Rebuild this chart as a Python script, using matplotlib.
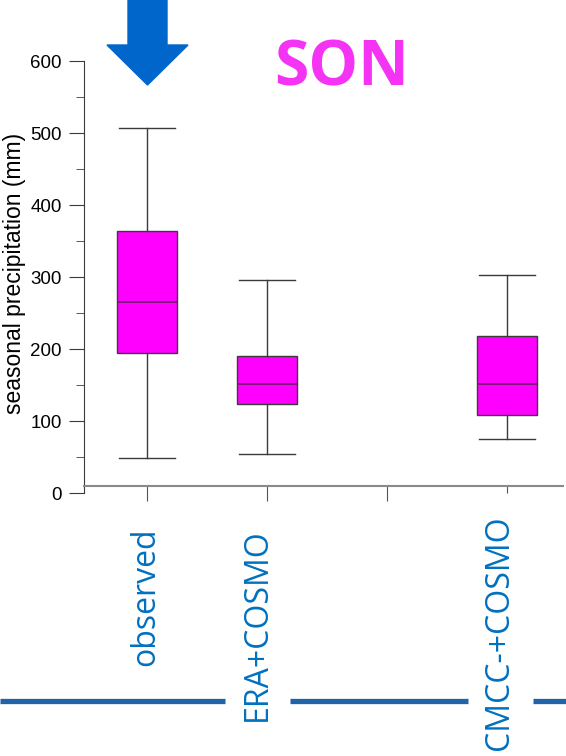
import matplotlib
matplotlib.use("Agg")
import matplotlib.pyplot as plt
from matplotlib.patches import FancyArrow

# box statistics (mm)
categories = ["observed", "ERA+COSMO", "CMCC-+COSMO"]
positions = [1, 2, 4]
whis_low = [49, 54, 75]
q1 = [194, 124, 108]
median = [265, 151, 151]
q3 = [364, 190, 218]
whis_high = [507, 296, 303]

W, H = 566, 756
fig = plt.figure(figsize=(W / 100, H / 100), dpi=100)

# axes box in pixels: x 84..563, y 61(600)..493(0)
ax = fig.add_axes([84 / W, 1 - 493 / H, (563 - 84) / W, (493 - 61) / H])

stats = []
for i in range(len(positions)):
    stats.append({"whislo": whis_low[i], "q1": q1[i], "med": median[i],
                  "q3": q3[i], "whishi": whis_high[i], "fliers": []})

ax.bxp(stats, positions=positions, widths=0.5, patch_artist=True,
       showfliers=False,
       boxprops=dict(facecolor="#ff00ff", edgecolor="#3a3a3a", linewidth=1),
       medianprops=dict(color="#6a1a6a", linewidth=1.2),
       whiskerprops=dict(color="#3a3a3a", linewidth=1),
       capprops=dict(color="#3a3a3a", linewidth=1),
       capwidths=0.47)

ax.set_xlim(0.475, 4.467)
ax.set_ylim(0, 600)
ax.set_yticks([0, 100, 200, 300, 400, 500, 600])
ax.set_yticks([50, 150, 250, 350, 450, 550], minor=True)
ax.set_xticks([1, 2, 3, 4])
ax.set_xticklabels([])

for s in ["top", "right"]:
    ax.spines[s].set_visible(False)
ax.spines["left"].set_color("#3a3a3a")
ax.spines["bottom"].set_color("#8a8a8a")
ax.spines["bottom"].set_position(("data", 9.7))
ax.spines["left"].set_bounds(0, 600)
ax.spines["bottom"].set_linewidth(1.5)

ax.tick_params(axis="y", which="major", direction="out", length=11,
               color="#3a3a3a", labelsize=13.5, pad=5)
ax.tick_params(axis="y", which="minor", direction="out", length=6,
               color="#3a3a3a")
ax.tick_params(axis="x", direction="out", length=11, color="#555555")
ax.xaxis.get_major_ticks()[3].tick1line.set_markersize(5)
for lab in ax.get_yticklabels():
    lab.set_family("Liberation Sans")
ax.patch.set_alpha(0)

fig.text(15 / W, 1 - 273 / H, "seasonal precipitation (mm)", rotation=90,
         ha="center", va="center", fontsize=16.5, family="Liberation Sans")

# SON title
fig.text(342 / W, 1 - 69 / H, "SON", fontsize=45, fontweight="bold",
         family="Open Sans", color="#f533f5", ha="center", va="center")

# blue arrow pointing down
arrow = FancyArrow(147.5 / W, 1.0, 0, -85 / H, width=39 / W,
                   head_width=81 / W, head_length=40 / H,
                   length_includes_head=True, color="#0066cc",
                   transform=fig.transFigure)
fig.patches.append(arrow)

# blue horizontal line with gaps behind labels
line_y = 1 - 701 / H
for x0, x1 in [(0, 225), (290, 468), (533, 566)]:
    fig.add_artist(plt.Line2D([x0 / W, x1 / W], [line_y, line_y],
                              color="#1f63a8", linewidth=3.8,
                              solid_capstyle="butt",
                              transform=fig.transFigure))

# category labels
label_x = [146, 257.5, 500]
label_top = [528, 528, 515]
for name, lx, ly in zip(categories, label_x, label_top):
    fig.text(lx / W, 1 - ly / H, name, rotation=90, ha="center", va="top",
             fontsize=23, family="Open Sans", color="#0070c0")

fig.savefig("out.png", dpi=100)
